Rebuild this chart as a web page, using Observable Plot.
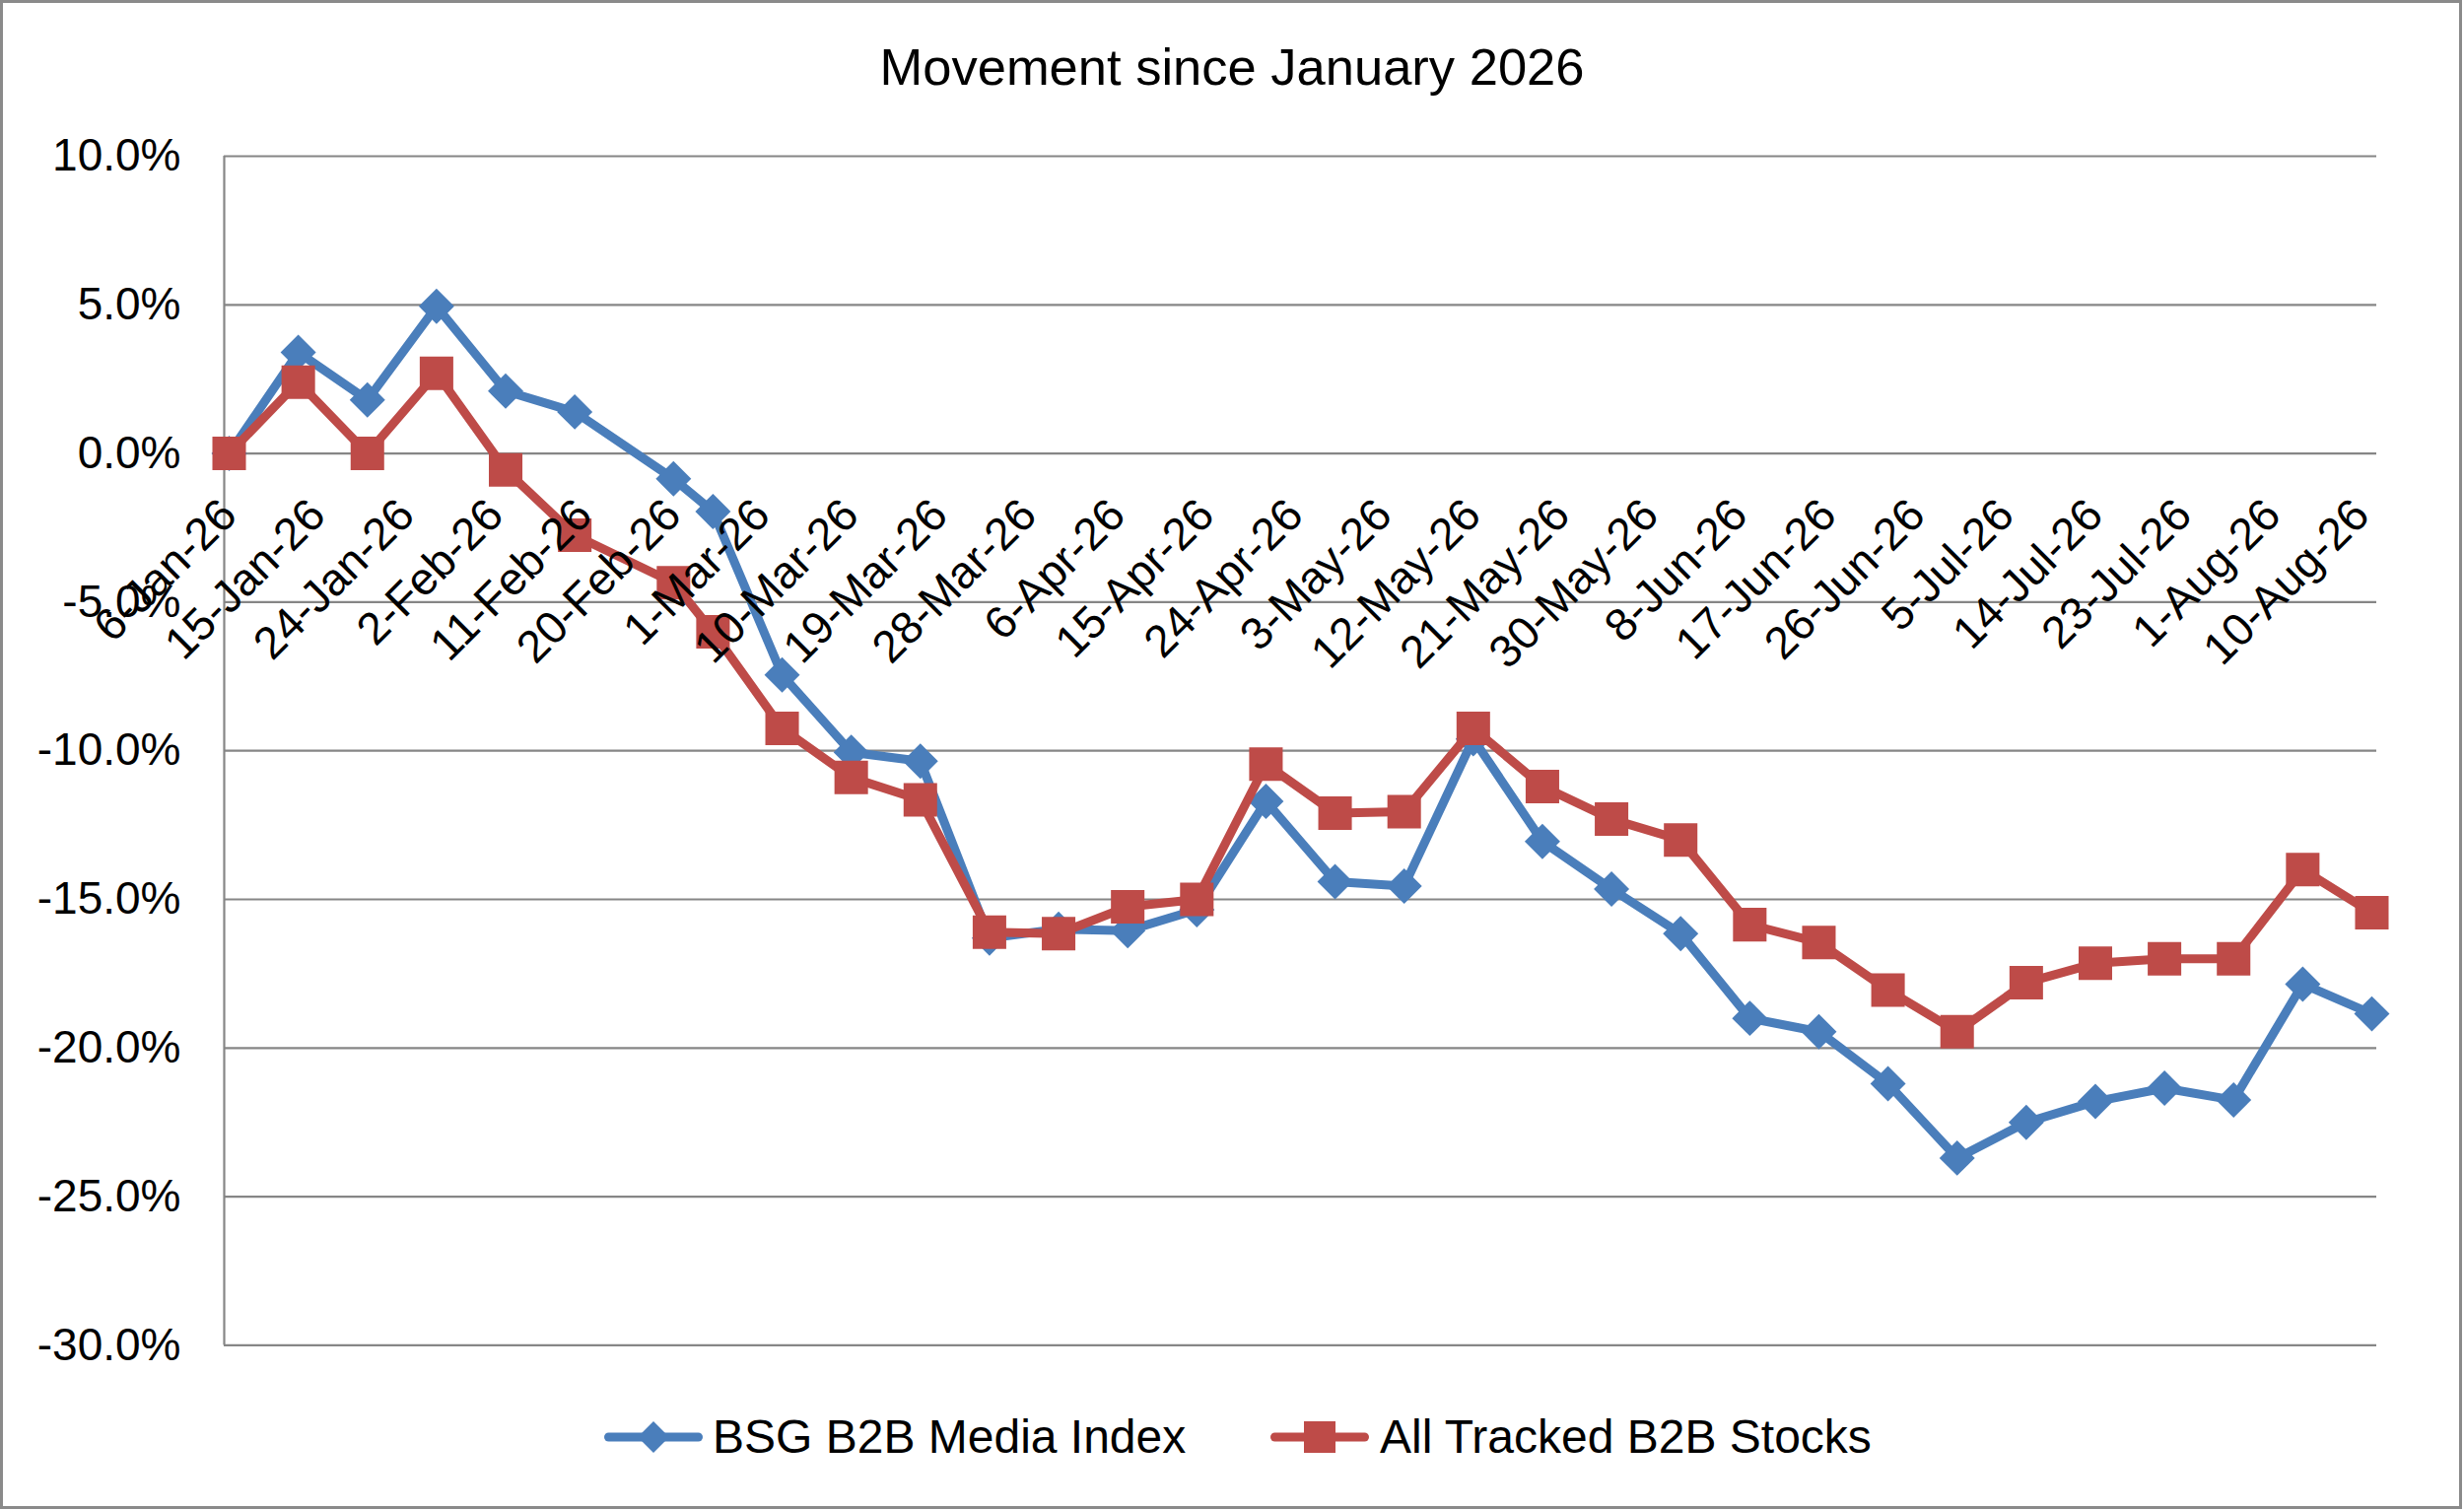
<!DOCTYPE html>
<html><head><meta charset="utf-8">
<script src="https://cdn.jsdelivr.net/npm/d3@7"></script>
<script src="https://cdn.jsdelivr.net/npm/@observablehq/plot@0.6"></script>
<style>
html,body{margin:0;padding:0;background:#fff;}
#page{position:relative;width:2500px;height:1532px;overflow:hidden;font-family:'Liberation Sans',Arial,sans-serif;color:#000;background:#fff;}
#border{position:absolute;left:0;top:0;width:2498px;height:1531px;border:3px solid #8a8a8a;box-sizing:border-box;pointer-events:none;}
#title{position:absolute;left:0;top:42px;width:2500px;text-align:center;font-size:52.5px;line-height:52px;}
#chart{position:absolute;left:0;top:0;}
.leg{position:absolute;top:1434px;height:48px;display:flex;align-items:center;font-size:48px;line-height:48px;white-space:nowrap;}
.leg svg{display:block;}
</style></head><body>
<div id="page"><div id="chart"></div><div id="title">Movement since January 2026</div><div id="legend"></div><div id="border"></div></div>
<script>
// ---- data ----
const dates = ["2026-01-06","2026-01-13","2026-01-20","2026-01-27","2026-02-03","2026-02-10","2026-02-20","2026-02-24",
  "2026-03-03","2026-03-10","2026-03-17","2026-03-24","2026-03-31","2026-04-07","2026-04-14","2026-04-21","2026-04-28",
  "2026-05-05","2026-05-12","2026-05-19","2026-05-26","2026-06-02","2026-06-09","2026-06-16","2026-06-23","2026-06-30",
  "2026-07-07","2026-07-14","2026-07-21","2026-07-28","2026-08-04","2026-08-11"];
const bsgIndex = [0, 3.4, 1.8, 4.95, 2.1, 1.4, -0.85, -1.95, -7.45, -10.05, -10.35, -16.3, -16.0, -16.05, -15.35, -11.7, -14.4,
  -14.55, -9.6, -13.05, -14.65, -16.15, -19.0, -19.45, -21.2, -23.7, -22.5, -21.8, -21.35, -21.75, -17.85, -18.85];
const allTracked = [0, 2.4, 0.0, 2.7, -0.55, -2.75, -4.35, -6.0, -9.25, -10.9, -11.65, -16.1, -16.15, -15.25, -15.0, -10.45, -12.1,
  -12.05, -9.25, -11.2, -12.3, -13.0, -15.85, -16.45, -18.05, -19.45, -17.8, -17.15, -17.0, -17.0, -14.0, -15.45];
const seriesNames = ["BSG B2B Media Index", "All Tracked B2B Stocks"];
const seriesColors = ["#4A7EBB", "#BE4B48"];
const xTickLabels = ["6-Jan-26","15-Jan-26","24-Jan-26","2-Feb-26","11-Feb-26","20-Feb-26","1-Mar-26","10-Mar-26","19-Mar-26",
  "28-Mar-26","6-Apr-26","15-Apr-26","24-Apr-26","3-May-26","12-May-26","21-May-26","30-May-26","8-Jun-26","17-Jun-26",
  "26-Jun-26","5-Jul-26","14-Jul-26","23-Jul-26","1-Aug-26","10-Aug-26"];
const yTicks = [10, 5, 0, -5, -10, -15, -20, -25, -30];

// ---- build ----
const parseISO = d3.utcParse("%Y-%m-%d");
const parseLbl = d3.utcParse("%d-%b-%y");
const blueRows = dates.map((d, i) => ({date: parseISO(d), value: bsgIndex[i]}));
const redRows = dates.map((d, i) => ({date: parseISO(d), value: allTracked[i]}));
const xTicks = xTickLabels.map(l => ({date: parseLbl(l), label: l}));
const first = blueRows[0].date, last = blueRows[blueRows.length - 1].date;
const xDomain = [d3.utcHour.offset(first, -12), d3.utcHour.offset(last, 12)];

const W = 2500, H = 1400;
const grid = "#868686";
const chart = Plot.plot({
  width: W, height: H,
  marginTop: 158, marginLeft: 227, marginRight: 89, marginBottom: H - 1364.4,
  x: {type: "utc", domain: xDomain, axis: null},
  y: {domain: [-30, 10], axis: null},
  style: {fontFamily: "'Liberation Sans', Arial, sans-serif", fontSize: "46px", background: "transparent", color: "#000", overflow: "visible"},
  marks: [
    Plot.ruleY(yTicks, {stroke: grid, strokeWidth: 2.2}),
    Plot.ruleX([xDomain[0]], {y1: yTicks[yTicks.length - 1], y2: yTicks[0], stroke: grid, strokeWidth: 2.2}),
    Plot.line(blueRows, {x: "date", y: "value", stroke: seriesColors[0], strokeWidth: 9, strokeLinejoin: "round", strokeLinecap: "round"}),
    Plot.dot(blueRows, {x: "date", y: "value", symbol: "diamond2", r: 16.2, fill: seriesColors[0], stroke: "none"}),
    Plot.line(redRows, {x: "date", y: "value", stroke: seriesColors[1], strokeWidth: 9, strokeLinejoin: "round", strokeLinecap: "round"}),
    Plot.dot(redRows, {x: "date", y: "value", symbol: "square", r: 19.2, fill: seriesColors[1], stroke: "none"}),
    Plot.axisY(yTicks, {tickSize: 0, tickPadding: 44, tickFormat: d => d.toFixed(1) + "%", fontSize: 46, label: null}),
    Plot.text(xTicks, {x: "date", y: () => 0, text: "label", rotate: -45, textAnchor: "end", lineAnchor: "bottom",
      fontSize: 46, dx: 10, dy: 65, fill: "#000"})
  ]
});
document.getElementById("chart").appendChild(chart);

// ---- legend ----
const legend = document.getElementById("legend");
const legItems = [
  {left: 607, sw: 116, name: seriesNames[0], color: seriesColors[0], shape: "diamond"},
  {left: 1283, sw: 117, name: seriesNames[1], color: seriesColors[1], shape: "square"}
];
const NS = "http://www.w3.org/2000/svg";
for (const it of legItems) {
  const div = document.createElement("div");
  div.className = "leg";
  div.style.left = it.left + "px";
  const svg = document.createElementNS(NS, "svg");
  svg.setAttribute("width", it.sw); svg.setAttribute("height", 48);
  const ln = document.createElementNS(NS, "line");
  ln.setAttribute("x1", 10.5); ln.setAttribute("x2", 101.5); ln.setAttribute("y1", 24); ln.setAttribute("y2", 24);
  ln.setAttribute("stroke", it.color); ln.setAttribute("stroke-width", 9); ln.setAttribute("stroke-linecap", "round");
  svg.appendChild(ln);
  const mk = document.createElementNS(NS, "path");
  mk.setAttribute("d", it.shape === "diamond" ? "M56,8L72,24L56,40L40,24Z" : "M40,8H72V40H40Z");
  mk.setAttribute("fill", it.color);
  svg.appendChild(mk);
  div.appendChild(svg);
  const sp = document.createElement("span");
  sp.textContent = it.name;
  div.appendChild(sp);
  legend.appendChild(div);
}
</script>
</body></html>
